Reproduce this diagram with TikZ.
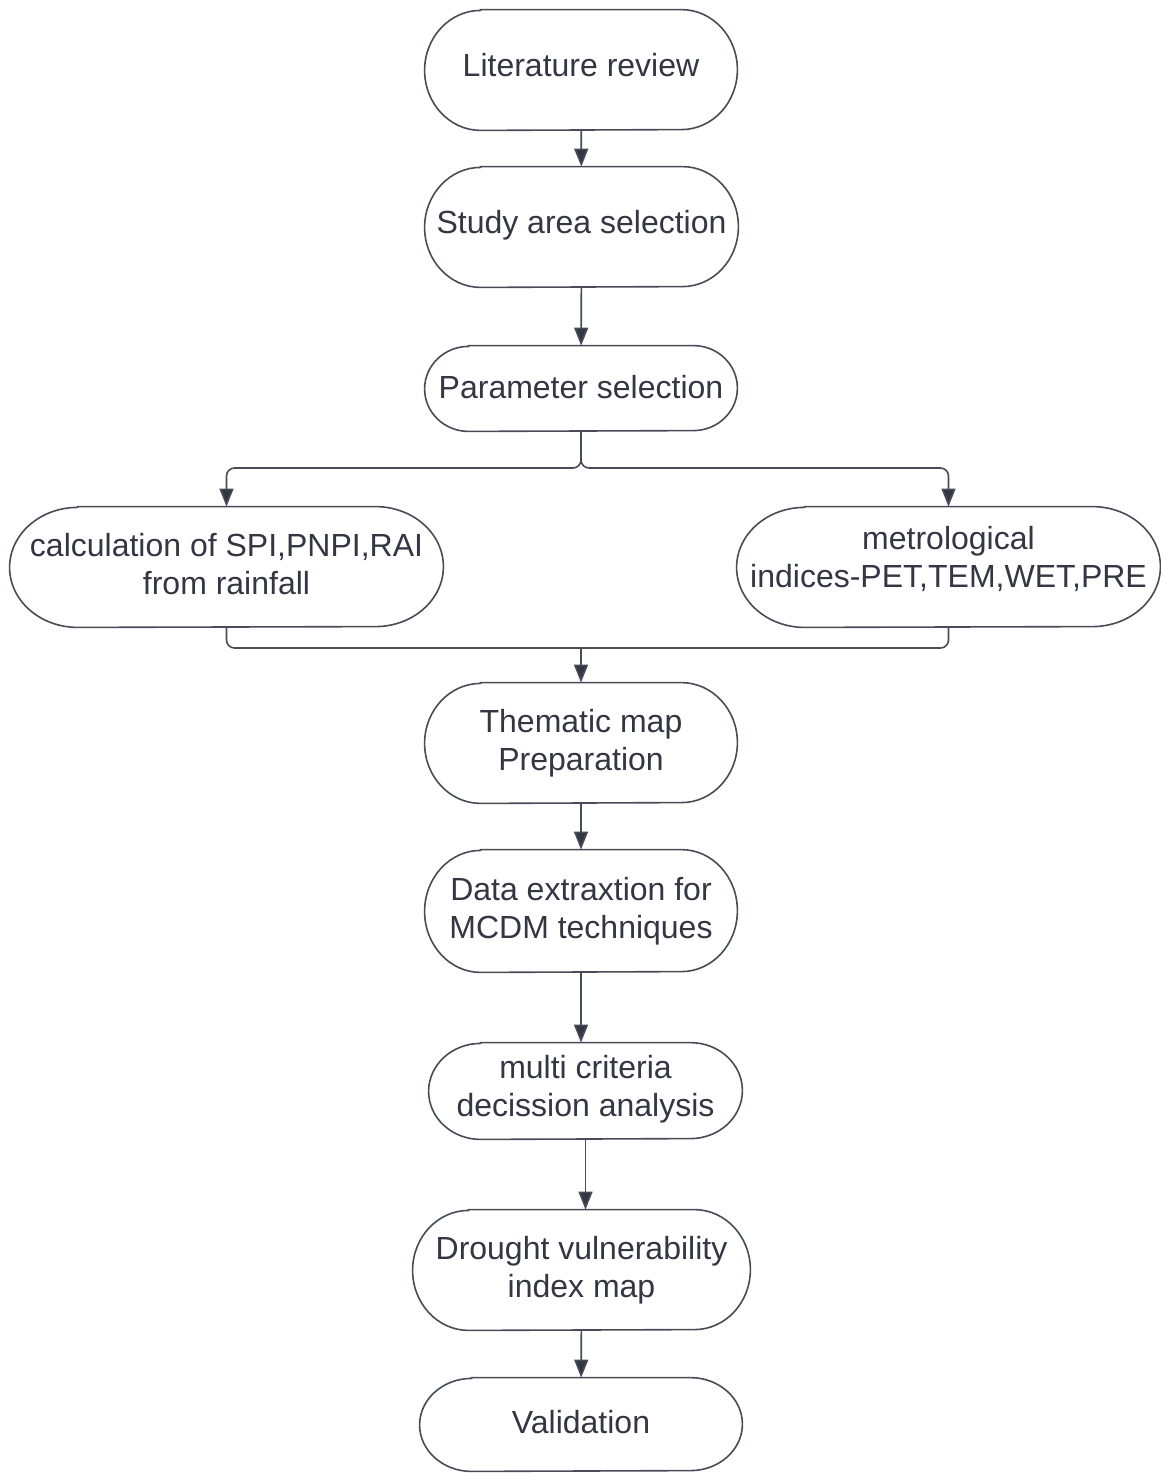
\documentclass[tikz,border=0pt]{standalone}
\usepackage{fontspec}
\setmainfont{Liberation Sans}
\usetikzlibrary{arrows.meta}
\definecolor{ink}{RGB}{50,55,66}
\definecolor{edgec}{RGB}{72,76,86}
\newcommand\stadfig[3]{%
  \draw[outline] ([xshift=#2]#1.north west) -- ([xshift=-#2]#1.north east)
    arc[start angle=90,end angle=-90,x radius=#2,y radius=#3]
    -- ([xshift=#2]#1.south west)
    arc[start angle=270,end angle=90,x radius=#2,y radius=#3] -- cycle;}
\begin{document}
\begin{tikzpicture}[x=0.5pt,y=-0.5pt,
  box/.style={draw=none,inner sep=0pt,align=center,text=ink,
    font=\fontsize{16pt}{19pt}\selectfont},
  outline/.style={draw=edgec,line width=0.8pt},
  line/.style={draw=edgec,line width=0.8pt},
  conn/.style={line,-{Triangle[length=9pt,width=7pt,fill=ink]}}]
\useasboundingbox (0,0) rectangle (1161,1473);
\fill[white] (0,0) rectangle (1161,1473);

\node[box,text depth=4.8pt,minimum width=156pt,minimum height=60pt] (lit) at (581,70) {Literature review};
\node[box,text depth=4.8pt,minimum width=156.5pt,minimum height=60pt] (study) at (581.5,227) {Study area selection};
\node[box,text depth=2pt,minimum width=156pt,minimum height=42.5pt] (param) at (581,388.5) {Parameter selection};
\node[box,text depth=3pt,minimum width=216.5pt,minimum height=60pt] (calc) at (226.5,567) {calculation of SPI,PNPI,RAI\\from rainfall};
\node[box,text depth=10.3pt,minimum width=211.5pt,minimum height=60pt] (met) at (948.5,567) {metrological\\indices-PET,TEM,WET,PRE};
\node[box,minimum width=156pt,minimum height=60pt] (them) at (581,743) {Thematic map\\Preparation};
\node[box,minimum width=156pt,minimum height=61pt] (data) at (581,911) {Data extraxtion for\\MCDM techniques};
\node[box,text depth=5.4pt,minimum width=156.5pt,minimum height=48pt] (multi) at (585.5,1091) {multi criteria\\decission analysis};
\node[box,minimum width=168.5pt,minimum height=60pt] (drought) at (581.5,1270) {Drought vulnerability\\index map};
\node[box,text depth=2.3pt,minimum width=161pt,minimum height=46.5pt] (valid) at (581,1424.5) {Validation};

\stadfig{lit}{28pt}{30pt}
\stadfig{study}{28pt}{30pt}
\stadfig{param}{22pt}{21.25pt}
\stadfig{calc}{34pt}{30pt}
\stadfig{met}{34pt}{30pt}
\stadfig{them}{28pt}{30pt}
\stadfig{data}{28pt}{30.5pt}
\stadfig{multi}{26pt}{24pt}
\stadfig{drought}{28pt}{30pt}
\stadfig{valid}{26pt}{23.25pt}

\coordinate (split) at (581,468);
\coordinate (merge) at (581,648);

\draw[conn] (lit) -- (study);
\draw[conn] (study) -- (param);
\draw[conn,rounded corners=4pt] (param.south) -- (split) -| (calc.north);
\draw[conn,rounded corners=4pt] (param.south) -- (split) -| (met.north);
\draw[line,rounded corners=4pt] (calc.south) |- (merge);
\draw[line,rounded corners=4pt] (met.south) |- (merge);
\draw[conn] (merge) -- (them.north);
\draw[conn] (them) -- (data);
\draw[conn] (data) -- (data.south |- multi.north);
\draw[conn] (multi.south) -- (multi.south |- drought.north);
\draw[conn] (drought) -- (valid);
\end{tikzpicture}
\end{document}
